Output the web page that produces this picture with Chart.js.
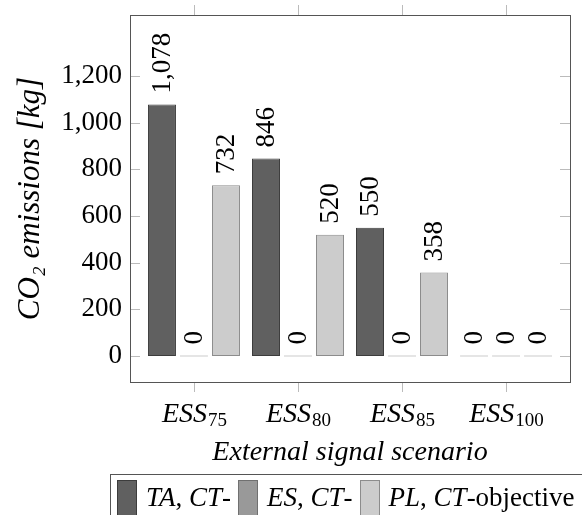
<!DOCTYPE html>
<html>
<head>
<meta charset="utf-8">
<script src="https://cdn.jsdelivr.net/npm/chart.js@4"></script>
<style>
  html, body { margin: 0; padding: 0; background: #fff; }
  #wrap { position: relative; width: 582px; height: 515px; overflow: hidden; }
  #legend {
    position: absolute; left: 110px; top: 474px; width: 520px; height: 60px;
    border: 1px solid #555; box-sizing: border-box;
    font-family: "Liberation Serif", "Times New Roman", serif; font-size: 27px;
    white-space: nowrap; padding: 5px 0 0 6px;
  }
  #legend .sw {
    display: inline-block; width: 18px; height: 40px; border: 1px solid #555;
    vertical-align: top; margin-right: 9px;
  }
  #legend .lt { display: inline-block; vertical-align: top; margin-right: 7px; line-height: 34px; }
</style>
</head>
<body>
<div id="wrap">
  <canvas id="co2Chart" width="582" height="515"></canvas>
  <div id="legend"></div>
</div>
<script>
// chart values
const scenarios = ["75", "80", "85", "100"];
const seriesNames = ["TA, CT-", "ES, CT-", "PL, CT-objective"];
const taValues = [1078, 846, 550, 0];
const esValues = [0, 0, 0, 0];
const plValues = [732, 520, 358, 0];
const yTicks = [0, 200, 400, 600, 800, 1000, 1200];

const serif = '"Liberation Serif", "Times New Roman", serif';
const fills = ["#606060", "#999999", "#cccccc"];
const borders = ["#3c3c3c", "#707070", "#8c8c8c"];

// frame, tick marks, x labels with subscripts and value labels
const paperPlugin = {
  id: "paper",
  afterDatasetsDraw(chart) {
    const { ctx, chartArea: a, scales } = chart;
    const xs = scales.x, ys = scales.y;
    ctx.save();

    ctx.strokeStyle = "#bbbbbb";
    ctx.lineWidth = 1;
    scenarios.forEach((s, i) => {
      const x = Math.round(xs.getPixelForValue(i)) + 0.5;
      ctx.beginPath();
      ctx.moveTo(x, a.top); ctx.lineTo(x, a.top - 10);
      ctx.moveTo(x, a.bottom); ctx.lineTo(x, a.bottom + 10);
      ctx.stroke();
    });
    yTicks.forEach(v => {
      const y = Math.round(ys.getPixelForValue(v)) + 0.5;
      ctx.beginPath();
      ctx.moveTo(a.left, y); ctx.lineTo(a.left + 10, y);
      ctx.moveTo(a.right, y); ctx.lineTo(a.right - 10, y);
      ctx.stroke();
    });

    ctx.strokeStyle = "#555555";
    ctx.strokeRect(Math.round(a.left) + 0.5, Math.round(a.top) + 0.5,
      Math.round(a.right - a.left), Math.round(a.bottom - a.top));

    // x tick labels: ESS with subscript
    ctx.fillStyle = "#000";
    ctx.textBaseline = "alphabetic";
    scenarios.forEach((s, i) => {
      const x = xs.getPixelForValue(i);
      ctx.font = "italic 28px " + serif;
      const w1 = ctx.measureText("ESS").width;
      ctx.font = "19px " + serif;
      const w2 = ctx.measureText(s).width;
      const x0 = x - (w1 + w2) / 2;
      ctx.font = "italic 28px " + serif;
      ctx.textAlign = "left";
      ctx.fillText("ESS", x0, a.bottom + 40);
      ctx.font = "19px " + serif;
      ctx.fillText(s, x0 + w1 + 1, a.bottom + 44);
    });

    // rotated value labels above bars
    ctx.font = "27px " + serif;
    chart.data.datasets.forEach((ds, di) => {
      const meta = chart.getDatasetMeta(di);
      meta.data.forEach((bar, i) => {
        const v = ds.data[i].y;
        ctx.save();
        ctx.translate(bar.x + 1, Math.min(bar.y, bar.base) - 11);
        ctx.rotate(-Math.PI / 2);
        ctx.textAlign = "left";
        ctx.textBaseline = "middle";
        ctx.fillText(v.toLocaleString("en-US"), 0, 0);
        ctx.restore();
      });
    });
    ctx.restore();
  }
};

const ctx = document.getElementById("co2Chart").getContext("2d");
const seriesValues = [taValues, esValues, plValues];

new Chart(ctx, {
  type: "bar",
  data: {
    datasets: seriesNames.map((name, k) => ({
      label: name,
      data: seriesValues[k].map((v, i) => ({ x: i, y: v })),
      backgroundColor: fills[k],
      borderColor: c => (c.raw && c.raw.y === 0 ? "#999999" : borders[k]),
      borderWidth: 1,
      borderSkipped: false,
      minBarLength: 1,
      categoryPercentage: 0.923,
      barPercentage: 0.875
    }))
  },
  options: {
    responsive: false,
    animation: false,
    layout: { padding: { left: 0, right: 12, top: 15, bottom: 0 } },
    plugins: { legend: { display: false }, tooltip: { enabled: false } },
    scales: {
      x: {
        type: "linear",
        min: -0.615,
        max: 3.615,
        offset: false,
        grid: { display: false, drawTicks: false },
        border: { display: false },
        afterBuildTicks: s => { s.ticks = scenarios.map((c, i) => ({ value: i })); },
        ticks: { display: false },
        title: {
          display: true,
          text: "External signal scenario",
          font: { family: serif, size: 28, style: "italic" },
          color: "#000",
          padding: { top: 0, bottom: 46 }
        },
        afterFit: s => { s.height = 133; }
      },
      y: {
        min: -111,
        max: 1461,
        grid: { display: false, drawTicks: false },
        border: { display: false },
        afterBuildTicks: s => { s.ticks = yTicks.map(v => ({ value: v })); },
        ticks: {
          padding: 8,
          color: "#000",
          font: { family: serif, size: 27, lineHeight: 0.5 },
          callback: v => v.toLocaleString("en-US")
        },
        title: {
          display: true,
          text: "CO\u2082 emissions [kg]",
          font: { family: serif, size: 31, style: "italic" },
          color: "#000",
          padding: { top: 12, bottom: 0 }
        },
        afterFit: s => { s.width = 130; }
      }
    }
  },
  plugins: [paperPlugin]
});

// legend box below the plot
document.getElementById("legend").innerHTML = seriesNames.map((name, k) =>
  `<span class="sw" style="background:${fills[k]};border-color:${borders[k]}"></span>` +
  `<span class="lt">${name.replace(/[A-Z]+/g, "<i>$&</i>")}</span>`
).join("");
</script>
</body>
</html>
